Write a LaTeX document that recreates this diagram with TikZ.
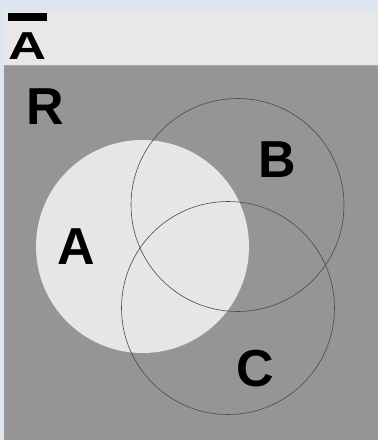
\documentclass[tikz,border=0pt]{standalone}
\usepackage{fontspec}
\setmainfont{Liberation Sans}
\usepackage{tikz}
\usetikzlibrary{positioning}
\usepackage{xcolor}

\definecolor{skyback}{HTML}{DDE6F0}
\definecolor{bandgray}{HTML}{E8E8E8}
\definecolor{universe}{HTML}{959595}
\definecolor{setfill}{HTML}{E6E6E6}
\definecolor{rimgray}{HTML}{4A4A4A}

\newcommand{\compA}{\setbox0\hbox{\scalebox{1.35}[1]{A}}\vbox{\hrule height 8pt width \wd0 \kern 12pt \box0}}

\begin{document}
\begin{tikzpicture}[
    x=1pt, y=-1pt,
    every node/.style={font=\bfseries\fontsize{52}{52}\selectfont},
    setlabel/.style={inner sep=0pt},
    region/.style={circle, minimum size=213pt, inner sep=0pt},
    rim/.style={region, draw=rimgray, line width=0.6pt}
]
    \useasboundingbox (0,0) rectangle (378,440);
    \fill[skyback] (0,0) rectangle (378,440);
    \fill[bandgray] (4,12) rectangle (378,65);
    \fill[universe] (4,65) rectangle (378,440);
    \draw[gray!70, line width=0.6pt] (4,65) -- (378,65);

    % sets
    \node[region, fill=setfill] (setA) at (142.5,246.5) {};
    \node[rim] (setB) at (237.5,205) {};
    \node[rim] (setC) at (228,308) {};

    % labels
    \node[setlabel, font=\bfseries\fontsize{39}{39}\selectfont] (notA) at (27.5,36) {\compA};
    \node[setlabel] (univ) at (45,106.5) {R};
    \node[setlabel] (labA) at (76.5,247) {A};
    \node[setlabel] (labB) at (277.5,160) {B};
    \node[setlabel] (labC) at (255,368.5) {C};
\end{tikzpicture}
\end{document}
